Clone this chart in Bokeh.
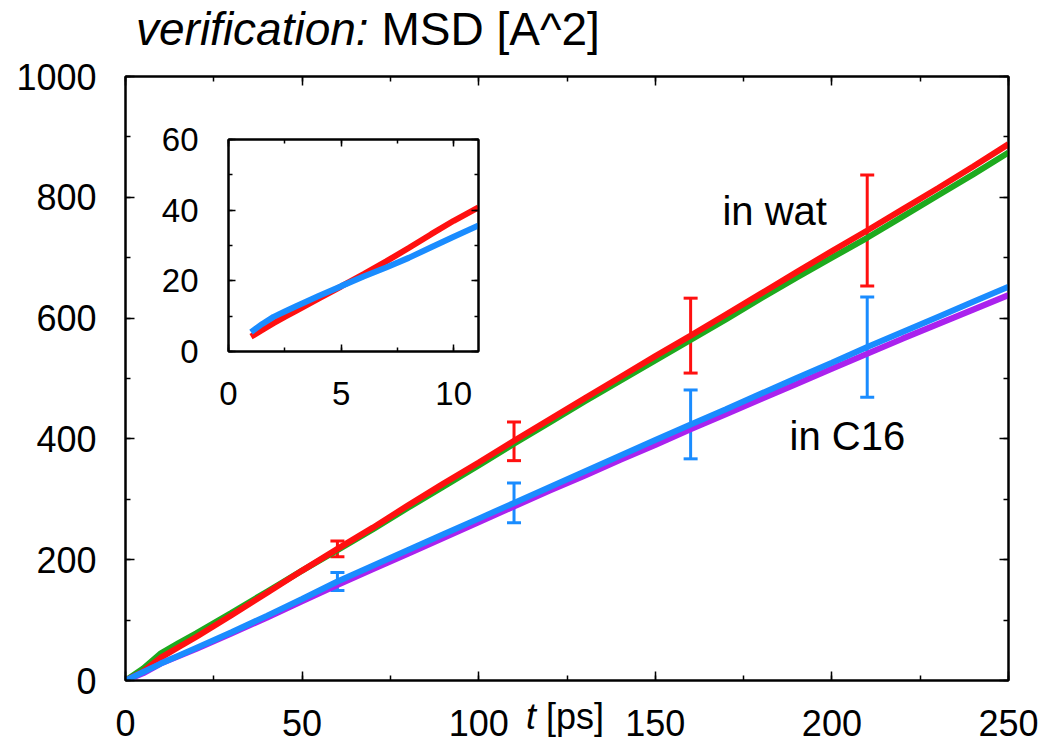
from bokeh.plotting import figure
from bokeh.models import (Range1d, SingleIntervalTicker, LinearAxis, Label, Div,
                          ColumnDataSource, Whisker, TeeHead, CustomJSTickFormatter)
from bokeh.layouts import column
from bokeh.embed import file_html
from bokeh.resources import INLINE

# ---------------- data ----------------
t_ps = [0, 5, 10, 15, 20, 30, 40, 50, 60, 70, 80, 90, 100, 110, 120, 130, 140,
        150, 160, 170, 180, 190, 200, 210, 220, 230, 240, 250]
msd_wat_red = [0, 15, 38, 55, 72, 108, 145, 182, 218, 253, 290, 326, 361, 397,
               432, 467, 502, 537, 571, 606, 641, 676, 711, 745, 780, 815, 851, 888]
msd_wat_green = [0, 20, 45, 62, 78, 112, 147, 182, 216, 250, 286, 321, 356, 392,
                 427, 462, 496, 530, 564, 598, 633, 667, 700, 733, 768, 803, 838, 874]
msd_c16_blue = [0, 14, 28, 41, 54, 80, 107, 135, 164, 190, 216, 242, 268, 294,
                320, 346, 372, 398, 424, 449, 475, 501, 526, 552, 577, 602, 627, 652]
msd_c16_purple = [0, 12, 28, 40, 52, 78, 104, 131, 158, 184, 210, 236, 262, 288,
                  314, 339, 365, 390, 416, 441, 466, 491, 516, 541, 566, 590, 614, 638]

err_t = [60, 110, 160, 210]
err_wat_mid = [218, 396, 571, 745]
err_wat_half = [13, 32, 62, 92]
err_c16_mid = [164, 294, 424, 552]
err_c16_half = [15, 33, 57, 83]

inset_t = [1, 1.5, 2, 2.5, 3, 4, 5, 6, 7, 8, 9, 10, 11.1]
inset_red = [4.2, 6.1, 8.0, 9.8, 11.5, 15.0, 18.4, 21.9, 25.5, 29.3, 33.2, 37.0, 40.8]
inset_blue = [5.5, 7.8, 9.8, 11.3, 12.8, 15.7, 18.5, 21.2, 23.8, 26.5, 29.5, 32.5, 35.7]

FONT = "Liberation Sans"
RED, GREEN, BLUE, PURPLE = "#ff1010", "#1eaa1e", "#1a8cff", "#aa22ee"
BLANK = CustomJSTickFormatter(code="return ''")

W, H = 1040, 746
BL, BR, BT, BB = 125, 32, 76, 66


def style_axis(ax, size, tick_in, minor_in, standoff, blank=False):
    ax.major_tick_in = tick_in
    ax.major_tick_out = 0
    ax.minor_tick_in = minor_in
    ax.minor_tick_out = 0
    ax.axis_line_width = 2
    ax.major_tick_line_width = 1.5
    ax.minor_tick_line_width = 1.5
    if blank:
        ax.formatter = BLANK
        ax.major_label_standoff = 0
    else:
        ax.major_label_text_font = FONT
        ax.major_label_text_font_size = size
        ax.major_label_text_color = "black"
        ax.major_label_standoff = standoff


# ---------------- main figure ----------------
p = figure(width=W, height=H, output_backend="svg", toolbar_location=None,
           x_range=Range1d(0, 250), y_range=Range1d(0, 1000),
           min_border_left=BL, min_border_right=BR, min_border_top=BT,
           min_border_bottom=BB, background_fill_color="white",
           border_fill_color="white", outline_line_color="black",
           outline_line_width=2)
p.grid.visible = False
p.xaxis.ticker = SingleIntervalTicker(interval=50, num_minor_ticks=2)
p.yaxis.ticker = SingleIntervalTicker(interval=200, num_minor_ticks=2)
style_axis(p.xaxis[0], "36px", 9, 5, 29)
style_axis(p.yaxis[0], "36px", 9, 5, 29)

top_ax = LinearAxis(ticker=SingleIntervalTicker(interval=50, num_minor_ticks=2))
right_ax = LinearAxis(ticker=SingleIntervalTicker(interval=200, num_minor_ticks=2))
style_axis(top_ax, "0px", 9, 5, 0, blank=True)
style_axis(right_ax, "0px", 9, 5, 0, blank=True)
p.add_layout(top_ax, "above")
p.add_layout(right_ax, "right")

src = ColumnDataSource(dict(t=t_ps, red=msd_wat_red, green=msd_wat_green,
                            blue=msd_c16_blue, purple=msd_c16_purple))
p.line("t", "green", source=src, line_color=GREEN, line_width=6)
p.line("t", "red", source=src, line_color=RED, line_width=6)
p.line("t", "purple", source=src, line_color=PURPLE, line_width=6)
p.line("t", "blue", source=src, line_color=BLUE, line_width=6)


def add_err(mid, half, color):
    s = ColumnDataSource(dict(x=err_t, lo=[m - h for m, h in zip(mid, half)],
                              hi=[m + h for m, h in zip(mid, half)]))
    w = Whisker(source=s, base="x", lower="lo", upper="hi", dimension="height",
                line_color=color, line_width=3,
                upper_head=TeeHead(size=14, line_color=color, line_width=3),
                lower_head=TeeHead(size=14, line_color=color, line_width=3))
    p.add_layout(w)


add_err(err_wat_mid, err_wat_half, RED)
add_err(err_c16_mid, err_c16_half, BLUE)

p.add_layout(Label(x=169, y=778, text="in wat", text_font=FONT,
                   text_font_size="40px", text_color="black",
                   text_baseline="alphabetic"))
p.add_layout(Label(x=188, y=405, text="in C16", text_font=FONT,
                   text_font_size="40px", text_color="black",
                   text_baseline="alphabetic"))

# ---------------- title and axis label as positioned text ----------------
title = Div(text="<i>verification:</i> MSD [A^2]", width=560, height=56,
            styles={"position": "absolute", "left": "131px", "top": "-3px",
                    "font-family": FONT, "font-size": "46px", "color": "black",
                    "white-space": "nowrap", "line-height": "normal",
                    "z-index": "20"})
xlab = Div(text="<i>t</i> [ps]", width=100, height=44,
           styles={"position": "absolute", "left": "521px", "top": "691px",
                   "font-family": FONT, "font-size": "36px", "color": "black",
                   "white-space": "nowrap", "line-height": "normal",
                   "z-index": "20"})

# ---------------- inset ----------------
IL, IT = 103, 114
ins = figure(width=BL + 250 + BR, height=312, output_backend="svg",
             toolbar_location=None,
             x_range=Range1d(0, 11.1), y_range=Range1d(0, 60),
             min_border_left=BL, min_border_right=BR, min_border_top=25,
             min_border_bottom=75, background_fill_color="white",
             border_fill_alpha=0, outline_line_color="black",
             outline_line_width=2)
ins.grid.visible = False
ins.xaxis.ticker = SingleIntervalTicker(interval=5, num_minor_ticks=2)
ins.yaxis.ticker = SingleIntervalTicker(interval=20, num_minor_ticks=2)
style_axis(ins.xaxis[0], "33px", 7, 4, 30)
style_axis(ins.yaxis[0], "33px", 7, 4, 30)
ins_top = LinearAxis(ticker=SingleIntervalTicker(interval=5, num_minor_ticks=2))
ins_right = LinearAxis(ticker=SingleIntervalTicker(interval=20, num_minor_ticks=2))
style_axis(ins_top, "0px", 7, 4, 0, blank=True)
style_axis(ins_right, "0px", 7, 4, 0, blank=True)
ins.add_layout(ins_top, "above")
ins.add_layout(ins_right, "right")

isrc = ColumnDataSource(dict(t=inset_t, red=inset_red, blue=inset_blue))
ins.line("t", "red", source=isrc, line_color=RED, line_width=6)
ins.line("t", "blue", source=isrc, line_color=BLUE, line_width=6)

ins.styles = {"position": "absolute", "left": f"{IL}px", "top": f"{IT}px",
              "z-index": "10"}

layout = column(p, ins, title, xlab)
open("out.html", "w").write(file_html(layout, INLINE))
